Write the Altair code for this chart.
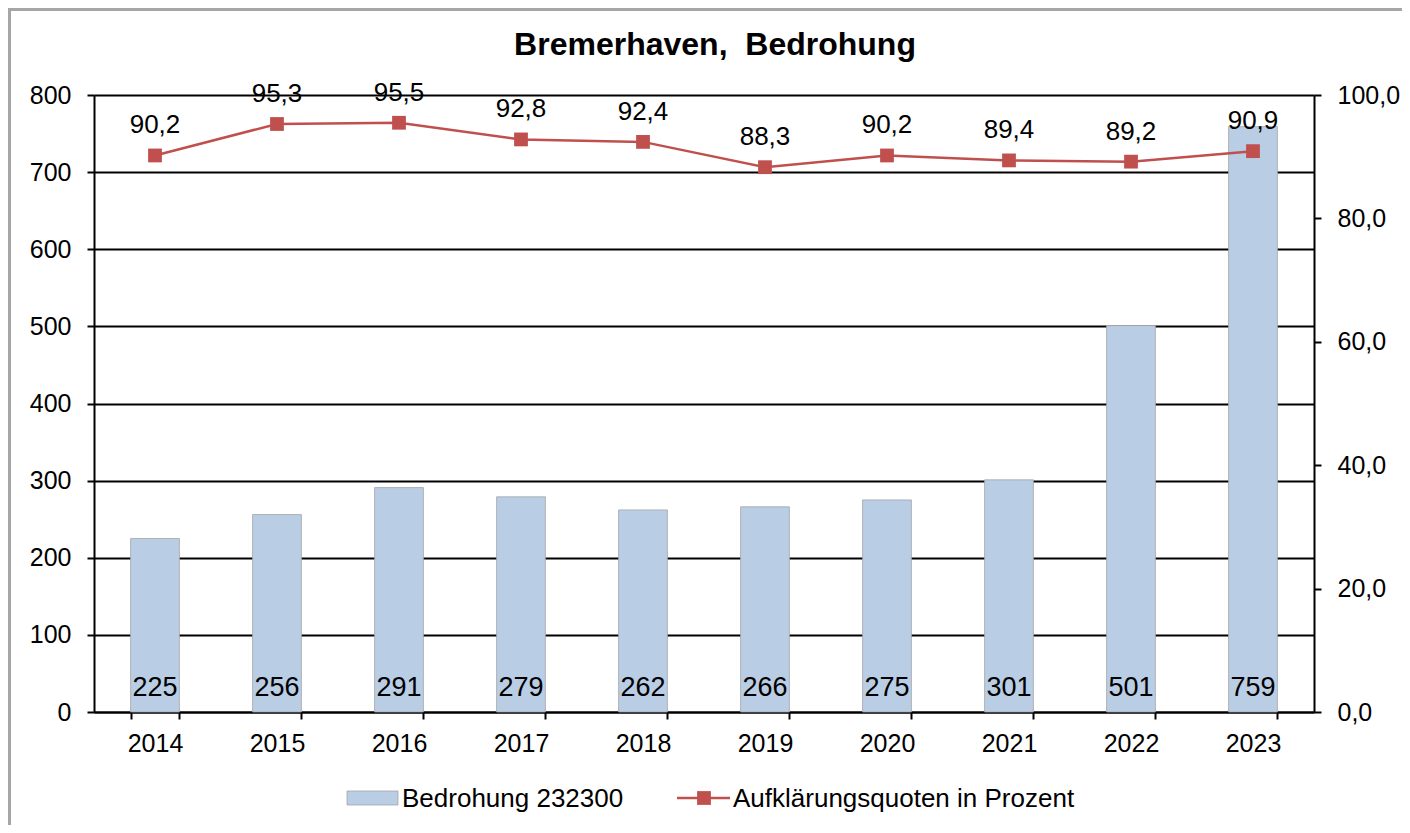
import altair as alt
import pandas as pd

years = ["2014", "2015", "2016", "2017", "2018", "2019", "2020", "2021", "2022", "2023"]
cases = [225, 256, 291, 279, 262, 266, 275, 301, 501, 759]
rates = [90.2, 95.3, 95.5, 92.8, 92.4, 88.3, 90.2, 89.4, 89.2, 90.9]
bar_name = "Bedrohung 232300"
line_name = "Aufklärungsquoten in Prozent"
title_text = "Bremerhaven,\u00a0 Bedrohung"

df = pd.DataFrame({"year": years, "cases": cases, "rate": rates})
df["rate_lbl"] = [f"{v:.1f}".replace(".", ",") for v in rates]

FONT = "Liberation Sans"
W, H = 1220, 617
BAR = "#B9CDE5"
RED = "#C0504D"

x = alt.X("year:N", sort=years, title=None,
          scale=alt.Scale(paddingInner=0.6, paddingOuter=0.3),
          axis=alt.Axis(labelAngle=0, labelFontSize=25, labelColor="black", labelFont=FONT,
                        tickBand="extent", tickSize=7, tickWidth=2, tickColor="black",
                        domainColor="black", domainWidth=2, labelPadding=12, grid=False))

left_axis = alt.Axis(values=list(range(0, 801, 100)), labelFontSize=25, labelColor="black",
                     labelFont=FONT, tickSize=7, tickWidth=2, tickColor="black",
                     domainColor="black", domainWidth=2, labelPadding=16,
                     grid=True, gridColor="black", gridWidth=2, zindex=0)
left_scale = alt.Scale(domain=[0, 800], nice=False)

yl = alt.Y("cases:Q", title=None, scale=left_scale, axis=left_axis)

yr = alt.Y("rate:Q", title=None,
           scale=alt.Scale(domain=[0, 100], nice=False),
           axis=alt.Axis(orient="right", values=[0, 20, 40, 60, 80, 100], labelFontSize=25,
                         labelColor="black", labelFont=FONT, tickSize=7, tickWidth=2,
                         tickColor="black", domainColor="black", domainWidth=2,
                         labelPadding=16, grid=False, format=".1f",
                         labelExpr="replace(datum.label, '.', ',')"))

base = alt.Chart(df)

bars = base.mark_bar(color=BAR, stroke="#A5A5A5", strokeWidth=0.8).encode(x=x, y=yl)
bar_labels = base.mark_text(fontSize=27, font=FONT, color="black", baseline="middle", dy=-24).encode(
    x=x, y=alt.Y("zero:Q", title=None, scale=left_scale, axis=left_axis), text="cases:Q"
).transform_calculate(zero="0")
left = alt.layer(bars, bar_labels)

line = base.mark_line(color=RED, strokeWidth=2.5).encode(x=x, y=yr)
pts = base.mark_point(shape="square", filled=True, color=RED, size=190, opacity=1).encode(x=x, y=yr)
line_labels = base.mark_text(fontSize=26, font=FONT, color="black", baseline="middle", dy=-30).encode(
    x=x, y=yr, text="rate_lbl:N")
right = alt.layer(line, pts, line_labels)

one = pd.DataFrame({"k": [0]})
title = alt.Chart(one).mark_text(text=title_text, fontSize=32, fontWeight="bold", font=FONT,
                                 color="black", align="center", baseline="middle").encode(
    x=alt.value(W / 2 + 11), y=alt.value(-50))

leg_sw = alt.Chart(one).mark_rect(color=BAR, stroke="#A5A5A5", strokeWidth=0.8).encode(
    x=alt.value(253), x2=alt.value(304), y=alt.value(696), y2=alt.value(710))
leg_t1 = alt.Chart(one).mark_text(text=bar_name, fontSize=26, font=FONT, color="black",
                                  align="left", baseline="middle").encode(x=alt.value(308), y=alt.value(704))
leg_ln = alt.Chart(one).mark_rule(color=RED, strokeWidth=2.5).encode(
    x=alt.value(583), x2=alt.value(636), y=alt.value(703))
leg_pt = alt.Chart(one).mark_point(shape="square", filled=True, color=RED, size=190, opacity=1).encode(
    x=alt.value(610), y=alt.value(703))
leg_t2 = alt.Chart(one).mark_text(text=line_name, fontSize=26, font=FONT, color="black",
                                  align="left", baseline="middle").encode(x=alt.value(639), y=alt.value(704))

border_top = alt.Chart(one).mark_rule(color="#A6A6A6", strokeWidth=3).encode(
    x=alt.value(-84.5), x2=alt.value(W + 90), y=alt.value(-85.5))
border_left = alt.Chart(one).mark_rule(color="#A6A6A6", strokeWidth=3).encode(
    x=alt.value(-84.5), y=alt.value(-87), y2=alt.value(H + 113))

chart = alt.layer(left, right, title, leg_sw, leg_t1, leg_ln, leg_pt, leg_t2,
                  border_top, border_left).resolve_scale(
    y="independent"
).properties(
    width=W, height=H,
    autosize=alt.AutoSizeParams(type="none"),
    padding={"left": 86, "top": 87, "right": 88, "bottom": 113},
    background="white",
).configure_view(stroke=None)

chart.save("out.html", embed_options={"renderer": "svg", "actions": False})
